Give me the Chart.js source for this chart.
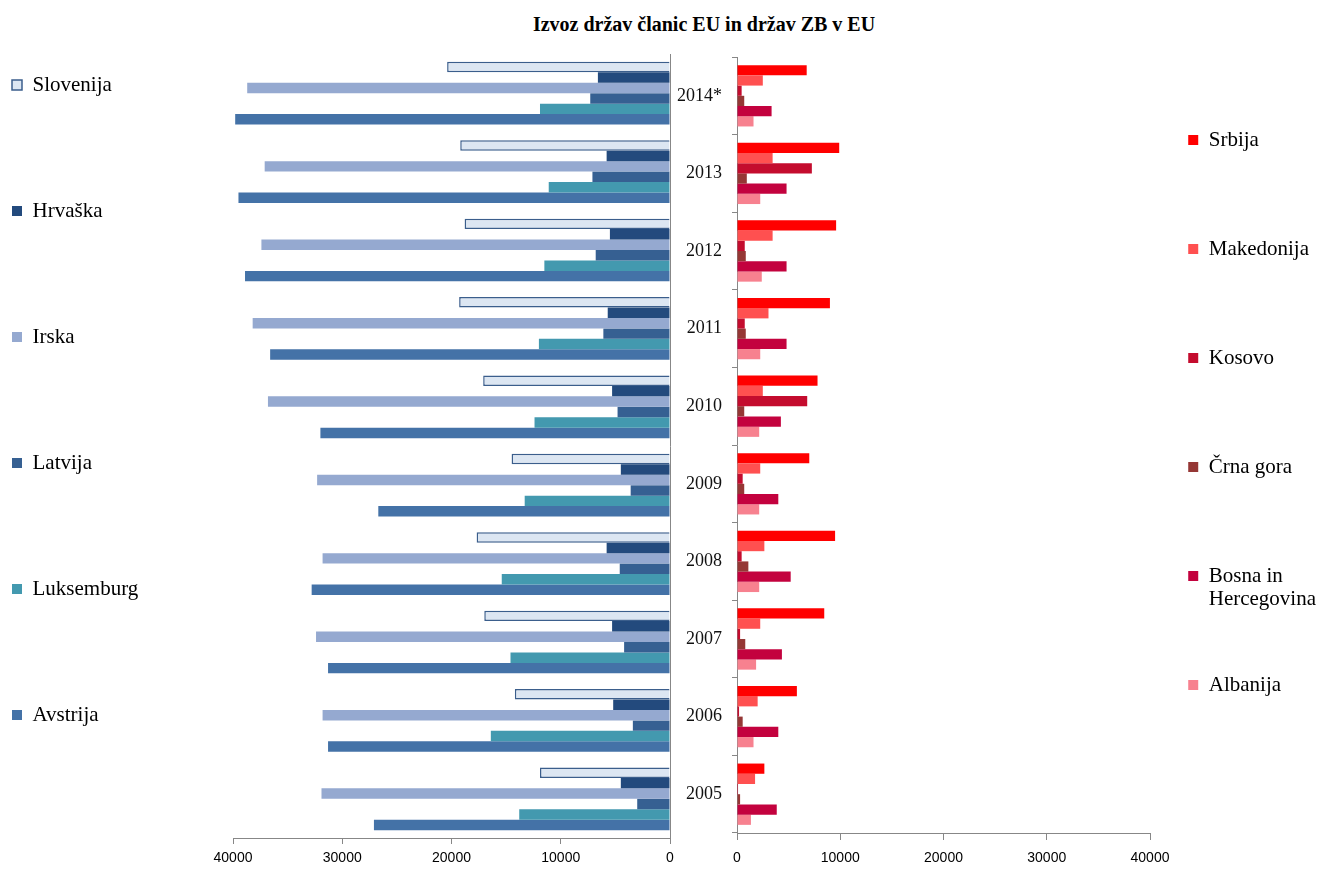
<!DOCTYPE html>
<html>
<head>
<meta charset="utf-8">
<title>Izvoz držav članic EU in držav ZB v EU</title>
<script src="https://cdn.jsdelivr.net/npm/chart.js@4.4.1/dist/chart.umd.min.js"></script>
<style>
  html, body { margin: 0; padding: 0; background: #fff; overflow: hidden; }
  body { width: 1319px; height: 870px; position: relative; }
  #title { position: absolute; left: 404px; top: 13px; width: 600px; text-align: center;
           font: bold 20px 'Liberation Serif', 'Times New Roman', serif; color: #000; }
  #leftBox { position: absolute; left: 0; top: 0; width: 680px; height: 870px; }
  #rightBox { position: absolute; left: 660px; top: 0; width: 666px; height: 870px; }
</style>
</head>
<body>
<div id="title">Izvoz držav članic EU in držav ZB v EU</div>
<div id="leftBox"><canvas id="leftChart"></canvas></div>
<div id="rightBox"><canvas id="rightChart"></canvas></div>
<script>
// years, top to bottom
const years = ['2014*', '2013', '2012', '2011', '2010', '2009', '2008', '2007', '2006', '2005'];

// EU member states (left half, bars grow to the left)
const slovenija  = [20400, 19200, 18800, 19300, 17100, 14500, 17700, 17000, 14200, 11900];
const hrvaska    = [6600, 5800, 5500, 5700, 5300, 4500, 5800, 5300, 5200, 4500];
const irska      = [38700, 37100, 37400, 38200, 36800, 32300, 31800, 32400, 31800, 31900];
const latvija    = [7300, 7100, 6800, 6100, 4800, 3600, 4600, 4200, 3400, 3000];
const luksemburg = [11900, 11100, 11500, 12000, 12400, 13300, 15400, 14600, 16400, 13800];
const avstrija   = [39800, 39500, 38900, 36600, 32000, 26700, 32800, 31300, 31300, 27100];

// Western Balkan countries (right half)
const srbija     = [6750, 9900, 9600, 9000, 7800, 7000, 9500, 8450, 5800, 2650];
const makedonija = [2500, 3450, 3450, 3050, 2500, 2250, 2650, 2250, 2000, 1750];
const kosovo     = [450, 7250, 750, 750, 6800, 550, 450, 300, 200, 100];
const crnaGora   = [700, 950, 850, 850, 700, 700, 1100, 800, 550, 300];
const bih        = [3350, 4800, 4800, 4800, 4250, 4000, 5200, 4350, 4000, 3850];
const albanija   = [1600, 2250, 2400, 2250, 2150, 2150, 2150, 1850, 1600, 1350];

const serif = "'Liberation Serif', 'Times New Roman', serif";
const sans = "'Liberation Sans', Arial, sans-serif";
const axisGrey = '#878787';

Chart.defaults.font.family = sans;
Chart.defaults.color = '#000';

// long names wrap onto two lines in the legend
const wrapped = { 'Bosna in Hercegovina': ['Bosna in', 'Hercegovina'] };

// every legend item gets the same number of lines so the items sit evenly spaced
function paddedLabels(chart, nLines) {
    const items = Chart.defaults.plugins.legend.labels.generateLabels(chart);
    return items.map(item => {
        const lines = (wrapped[item.text] || [item.text]).slice();
        while (lines.length < nLines) lines.push('');
        item.text = lines;
        return item;
    });
}

const plainNumber = v => String(v);

// left chart: EU members
new Chart(document.getElementById('leftChart'), {
    type: 'bar',
    data: {
        labels: years,
        datasets: [
            { label: 'Slovenija', data: slovenija, backgroundColor: '#DCE6F2', borderColor: '#3B5E8C', borderWidth: 1.5 },
            { label: 'Hrvaška', data: hrvaska, backgroundColor: '#234A7D' },
            { label: 'Irska', data: irska, backgroundColor: '#95A9D0' },
            { label: 'Latvija', data: latvija, backgroundColor: '#366092' },
            { label: 'Luksemburg', data: luksemburg, backgroundColor: '#4399AF' },
            { label: 'Avstrija', data: avstrija, backgroundColor: '#4472A7' }
        ]
    },
    options: {
        indexAxis: 'y',
        responsive: true,
        maintainAspectRatio: false,
        animation: false,
        layout: { padding: { top: 54, left: 6, right: 10, bottom: 0 } },
        datasets: { bar: { categoryPercentage: 0.8, barPercentage: 1.0 } },
        scales: {
            x: {
                reverse: true,
                min: 0,
                max: 40000,
                ticks: { stepSize: 10000, callback: plainNumber, font: { size: 14 }, padding: 6 },
                grid: { drawOnChartArea: false, tickLength: 6, color: axisGrey },
                border: { color: axisGrey },
                afterFit: s => { s.height = 32; }
            },
            y: {
                position: 'right',
                ticks: { display: false },
                grid: { display: false },
                border: { color: axisGrey },
                afterFit: s => { s.width = 0; }
            },
            padL: {            // spacer between legend and plot
                type: 'linear',
                position: 'left',
                ticks: { display: false },
                grid: { display: false },
                border: { display: false },
                afterFit: s => { s.width = Math.max(0, 233 - 6 - s.chart.legend.width); }
            }
        },
        plugins: {
            legend: {
                position: 'left',
                align: 'start',
                maxWidth: 300,
                title: { display: true, text: '', padding: { top: 2.5, bottom: 0 }, font: { size: 12, lineHeight: 1 } },
                labels: {
                    boxWidth: 10,
                    boxHeight: 10,
                    padding: 6,
                    color: '#000',
                    font: { family: serif, size: 21, lineHeight: '24px' },
                    generateLabels: chart => paddedLabels(chart, 5)
                }
            },
            tooltip: { enabled: false }
        }
    }
});

// right chart: Western Balkans
new Chart(document.getElementById('rightChart'), {
    type: 'bar',
    data: {
        labels: years,
        datasets: [
            { label: 'Srbija', data: srbija, backgroundColor: '#FF0000' },
            { label: 'Makedonija', data: makedonija, backgroundColor: '#FF5050' },
            { label: 'Kosovo', data: kosovo, backgroundColor: '#C40C2E' },
            { label: 'Črna gora', data: crnaGora, backgroundColor: '#953735' },
            { label: 'Bosna in Hercegovina', data: bih, backgroundColor: '#C3023E' },
            { label: 'Albanija', data: albanija, backgroundColor: '#F7818F' }
        ]
    },
    options: {
        indexAxis: 'y',
        responsive: true,
        maintainAspectRatio: false,
        animation: false,
        layout: { padding: { top: 57, left: 0, right: 0, bottom: 0 } },
        datasets: { bar: { categoryPercentage: 0.79, barPercentage: 1.0 } },
        scales: {
            x: {
                min: 0,
                max: 40000,
                ticks: { stepSize: 10000, callback: plainNumber, font: { size: 14 }, padding: 10 },
                grid: { drawOnChartArea: false, tickLength: 7, color: axisGrey },
                border: { color: axisGrey },
                afterFit: s => { s.height = 37; }
            },
            y: {
                position: 'left',
                ticks: { font: { family: serif, size: 18 }, color: '#111', padding: 10 },
                grid: { drawOnChartArea: false, offset: true, tickLength: 5, color: axisGrey },
                border: { color: axisGrey },
                afterFit: s => { s.width = 77; }
            },
            padR: {            // spacer between plot and legend
                type: 'linear',
                position: 'right',
                ticks: { display: false },
                grid: { display: false },
                border: { display: false },
                afterFit: s => { s.width = Math.max(0, 666 - 490 - s.chart.legend.width); }
            }
        },
        plugins: {
            legend: {
                position: 'right',
                align: 'start',
                maxWidth: 300,
                title: { display: true, text: '', padding: { top: 43.5, bottom: 0 }, font: { size: 12, lineHeight: 1 } },
                labels: {
                    boxWidth: 10,
                    boxHeight: 10,
                    padding: 17,
                    color: '#000',
                    font: { family: serif, size: 21, lineHeight: '23px' },
                    generateLabels: chart => paddedLabels(chart, 4)
                }
            },
            tooltip: { enabled: false }
        }
    }
});
</script>
</body>
</html>
